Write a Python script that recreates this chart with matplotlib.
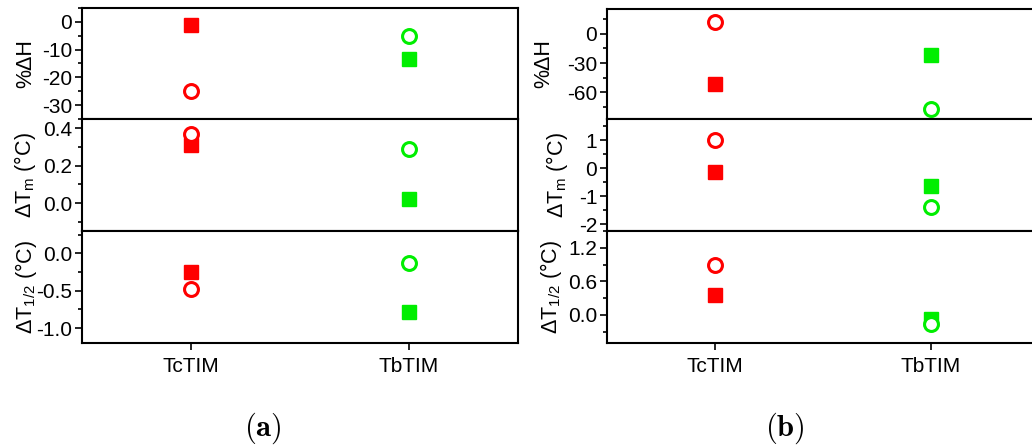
import numpy as np
import matplotlib
matplotlib.use('Agg')
import matplotlib.pyplot as plt
from matplotlib.ticker import MultipleLocator

plt.rcParams['font.family'] = ['Liberation Sans', 'DejaVu Sans']
plt.rcParams['mathtext.fontset'] = 'custom'
plt.rcParams['mathtext.rm'] = 'Liberation Sans'
plt.rcParams['mathtext.it'] = 'Liberation Sans:italic'
plt.rcParams['mathtext.bf'] = 'Liberation Sans:bold'

# ---------------- data ----------------
categories = ['TcTIM', 'TbTIM']
colors = ['#ff0000', '#00ee00']

# panel (a)
dH_a_sq = [-1.0, -13.5]
dH_a_circ = [-25.0, -5.0]
dTm_a_sq = [0.31, 0.02]
dTm_a_circ = [0.37, 0.29]
dT12_a_sq = [-0.25, -0.79]
dT12_a_circ = [-0.48, -0.13]

# panel (b)
dH_b_sq = [-51.0, -22.0]
dH_b_circ = [11.5, -77.0]
dTm_b_sq = [-0.14, -0.66]
dTm_b_circ = [1.0, -1.41]
dT12_b_sq = [0.36, -0.07]
dT12_b_circ = [0.9, -0.16]

ylabels = ['%ΔH', r'ΔT$_{\mathrm{m}}$ (°C)', r'ΔT$_{\mathrm{1/2}}$ (°C)']

panel_a = [
    (dH_a_sq, dH_a_circ, (-35, 5), 10, 5),
    (dTm_a_sq, dTm_a_circ, (-0.15, 0.45), 0.2, 0.1),
    (dT12_a_sq, dT12_a_circ, (-1.2, 0.3), 0.5, 0.25),
]
panel_b = [
    (dH_b_sq, dH_b_circ, (-87, 25), 30, 15),
    (dTm_b_sq, dTm_b_circ, (-2.25, 1.75), 1, 0.5),
    (dT12_b_sq, dT12_b_circ, (-0.5, 1.5), 0.6, 0.3),
]

fig = plt.figure(figsize=(10.32, 4.48), dpi=100)
W, H = 1032, 448


def draw_panel(left, width, top, rows, label_x, fmt):
    x = np.arange(1, len(categories) + 1)
    edges = [top, 119, 231, 343]
    for i, (sq, circ, ylim, major, minor) in enumerate(rows):
        y0, y1 = edges[i], edges[i + 1]
        ax = fig.add_axes([left / W, 1 - y1 / H, width / W, (y1 - y0) / H])
        for j in range(len(categories)):
            ax.plot(x[j], sq[j], 's', ms=10.5, color=colors[j], zorder=3)
            ax.plot(x[j], circ[j], 'o', ms=10, mfc='white', mec=colors[j],
                    mew=2.2, zorder=4)
        ax.set_xlim(0.5, 2.5)
        ax.set_ylim(*ylim)
        ax.set_xticks(x)
        ax.yaxis.set_major_locator(MultipleLocator(major))
        ax.yaxis.set_minor_locator(MultipleLocator(minor))
        ax.yaxis.set_major_formatter(plt.FormatStrFormatter(fmt[i]))
        ax.tick_params(axis='both', which='major', direction='out', length=5,
                       width=1.2, labelsize=15, pad=2)
        ax.tick_params(axis='y', which='minor', direction='out', length=3,
                       width=1.2)
        ax.tick_params(axis='x', which='major', pad=5)
        if i < 2:
            ax.tick_params(axis='x', labelbottom=False)
        else:
            ax.set_xticklabels(categories)
        for s in ax.spines.values():
            s.set_linewidth(1.5)
        ax.set_ylabel(ylabels[i], fontsize=15.5)
        ax.yaxis.set_label_coords(label_x[i], 0.5)


draw_panel(82, 436, 8, panel_a, [-0.104, -0.10, -0.098],
           ['%d', '%.1f', '%.1f'])
draw_panel(607, 432, 9, panel_b, [-0.122, -0.085, -0.10],
           ['%d', '%d', '%.1f'])

fig.text(263 / W, 1 - 428 / H, r'$\mathbf{(a)}$', math_fontfamily='cm',
         fontsize=22, ha='center', va='center')
fig.text(785 / W, 1 - 428 / H, r'$\mathbf{(b)}$', math_fontfamily='cm',
         fontsize=22, ha='center', va='center')

fig.savefig('out.png', dpi=100)
